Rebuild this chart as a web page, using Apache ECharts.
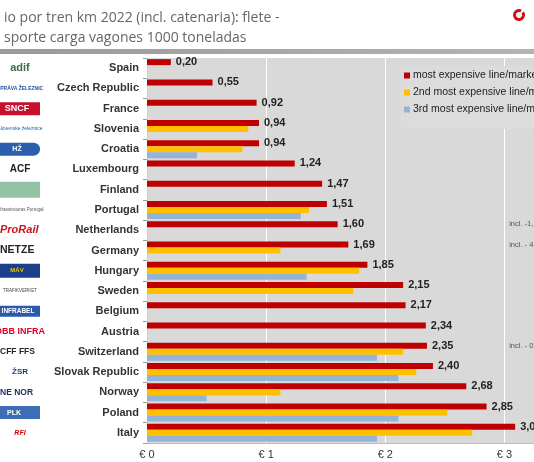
<!DOCTYPE html>
<html>
<head>
<meta charset="utf-8">
<script src="https://cdn.jsdelivr.net/npm/echarts@6/dist/echarts.min.js"></script>
<style>html,body{margin:0;padding:0;background:#fff;}#c{width:534px;height:462px;}</style>
</head>
<body>
<div id="c"></div>
<script>
const categories = ['Spain','Czech Republic','France','Slovenia','Croatia','Luxembourg','Finland','Portugal','Netherlands','Germany','Hungary','Sweden','Belgium','Austria','Switzerland','Slovak Republic','Norway','Poland','Italy'];
const mostExpensive = [0.20,0.55,0.92,0.94,0.94,1.24,1.47,1.51,1.60,1.69,1.85,2.15,2.17,2.34,2.35,2.40,2.68,2.85,3.09];
const secondExpensive = [null,null,null,0.85,0.80,null,null,1.36,null,1.12,1.78,1.73,null,null,2.15,2.26,1.12,2.52,2.73];
const thirdExpensive = [null,null,null,null,0.42,null,null,1.29,null,null,1.34,null,null,null,1.93,2.11,0.50,2.11,1.93];
const xTicks = [0,1,2,3];
const seriesNames = ['most expensive line/market segment','2nd most expensive line/market segment','3rd most expensive line/market segment'];
const logos = [['adif','adif'],['SPRÁVA ŽELEZNIC','sz'],['SNCF','sncf'],['Slovenske železnice','slo'],['HŽ','hz'],['ACF','acf'],['  ','fin'],['Infraestruturas Portugal','ip'],['ProRail','pro'],['NETZE','netze'],['MÁV','mav'],['TRAFIKVERKET','tv'],['INFRABEL','infra'],['ÖBB INFRA','obb'],['CFF FFS','sbb'],['ŽSR','zsr'],['NE NOR','bane'],['PLK','plk'],['RFI','rfi']];
const notes = [['Netherlands','incl. -1,'],['Germany','incl. - 4'],['Switzerland','incl. - 0,']];

const chart = echarts.init(document.getElementById('c'));
const fmt = v => v.toFixed(2).replace('.', ',');
const barBase = {type:'bar', barWidth:6, barGap:'0%', barCategoryGap:'10%'};
const option = {
  animation:false,
  title:{text:'io por tren km 2022 (incl. catenaria): flete -\nsporte carga vagones 1000 toneladas', left:-1, top:3,
    textStyle:{fontFamily:'Open Sans', fontSize:14, fontWeight:'normal', color:'#666', lineHeight:20}},
  legend:{orient:'vertical', left:401, top:66, itemWidth:6, itemHeight:6, itemGap:6, icon:'rect',
    backgroundColor:'#dcdcdc', padding:[4,4,14,3],
    textStyle:{fontFamily:'Liberation Sans', fontSize:10.5, color:'#222', padding:[0,0,0,-2]}, data:seriesNames},
  grid:{left:147, top:58, bottom:19, right:-30, show:true, backgroundColor:'#d9d9d9', borderWidth:0,
    containLabel:false, outerBoundsMode:'none'},
  xAxis:{type:'value', min:0, max:3.5, interval:1,
    axisLine:{show:true, lineStyle:{color:'#bdbdbd'}}, axisTick:{show:false},
    splitLine:{show:true, lineStyle:{color:'#ffffff', width:1}},
    axisLabel:{formatter:v => xTicks.includes(v) ? '€ ' + v : '', fontFamily:'Liberation Sans', fontSize:11, color:'#333', margin:6}},
  yAxis:{type:'category', inverse:true, data:categories,
    axisLine:{show:true, lineStyle:{color:'#d0d0d0'}},
    axisTick:{show:true, length:4, lineStyle:{color:'#999'}},
    axisLabel:{margin:8, formatter:(v, i) => '{' + logos[i][1] + '|' + logos[i][0] + '}{n|' + v + '}',
      rich:{
        n:{width:99, align:'right', fontFamily:'Liberation Sans', fontWeight:'bold', fontSize:11, color:'#333'},
        adif:{width:40, align:'center', color:'#3c6e47', fontWeight:'bold', fontSize:11, fontFamily:'Liberation Sans'},
        sz:{width:40, align:'center', color:'#1f4e9a', fontSize:5, fontWeight:'bold'},
        sncf:{width:40, align:'center', color:'#fff', backgroundColor:'#c8102e', fontSize:9, fontWeight:'bold', padding:[2,3], fontFamily:'Liberation Sans'},
        slo:{width:40, align:'center', color:'#1f5fa8', fontSize:5},
        hz:{width:40, align:'center', color:'#fff', backgroundColor:'#2b5fae', borderRadius:8, padding:[3,3], fontSize:7, fontWeight:'bold'},
        acf:{width:40, align:'center', color:'#222', fontSize:10, fontWeight:'bold', fontFamily:'Liberation Sans'},
        fin:{width:40, align:'center', backgroundColor:'#93c2a4', height:16, fontSize:8},
        ip:{width:40, align:'center', color:'#555', fontSize:4.5},
        pro:{width:40, align:'left', color:'#d0121b', fontSize:11, fontWeight:'bold', fontStyle:'italic', fontFamily:'Liberation Sans'},
        netze:{width:40, align:'left', color:'#222', fontSize:10.5, fontWeight:'bold', fontFamily:'Liberation Sans'},
        mav:{width:40, align:'center', color:'#f5c400', backgroundColor:'#1b3f8b', fontSize:6, fontWeight:'bold', padding:[4,3]},
        tv:{width:40, align:'center', color:'#444', fontSize:4.5},
        infra:{width:40, align:'center', color:'#fff', backgroundColor:'#2a5aa8', fontSize:6.5, fontWeight:'bold', padding:[2,2]},
        obb:{width:40, align:'center', color:'#e2002a', fontSize:9, fontWeight:'bold', fontFamily:'Liberation Sans'},
        sbb:{width:40, align:'left', color:'#222', fontSize:8.5, fontWeight:'bold', fontFamily:'Liberation Sans'},
        zsr:{width:40, align:'center', color:'#1f3f8f', fontSize:8, fontWeight:'bold', fontFamily:'Liberation Sans'},
        bane:{width:40, align:'left', color:'#1e2a5a', fontSize:8.5, fontWeight:'bold', fontFamily:'Liberation Sans'},
        plk:{width:40, align:'center', color:'#fff', backgroundColor:'#3d6db5', fontSize:7, fontWeight:'bold', padding:[3,6]},
        rfi:{width:40, align:'center', color:'#c00', fontSize:7, fontStyle:'italic', fontWeight:'bold'}
      }}},
  graphic:[
    {type:'rect', shape:{x:0, y:49, width:534, height:5},
      style:{fill:new echarts.graphic.LinearGradient(0,0,1,0,[{offset:0,color:'#9a9a9a'},{offset:1,color:'#b4b4b4'}])}},
    {type:'arc', shape:{cx:519, cy:15, r:4.5, startAngle:-0.6, endAngle:5.2}, style:{stroke:'#d40f14', lineWidth:3, fill:null}}
  ],
  series:[
    Object.assign({}, barBase, {name:seriesNames[0], data:mostExpensive, itemStyle:{color:'#c00000'},
      label:{show:true, position:'right', distance:5, formatter:p => fmt(p.value), fontFamily:'Liberation Sans', fontWeight:'bold', fontSize:11, color:'#222'}}),
    Object.assign({}, barBase, {name:seriesNames[1], data:secondExpensive, itemStyle:{color:'#ffc000'}}),
    Object.assign({}, barBase, {name:seriesNames[2], data:thirdExpensive, itemStyle:{color:'#95b3d7'}})
  ]
};
chart.setOption(option);
const noteGraphics = notes.map(n => {
  const y = chart.convertToPixel({yAxisIndex:0}, n[0]);
  const x = chart.convertToPixel({xAxisIndex:0}, 3.04);
  return {type:'text', x:x, y:y - 6, style:{text:n[1], fontSize:7.5, fill:'#555', fontFamily:'Liberation Sans', verticalAlign:'middle'}};
});
chart.setOption({graphic:option.graphic.concat(noteGraphics)});
</script>
</body>
</html>
